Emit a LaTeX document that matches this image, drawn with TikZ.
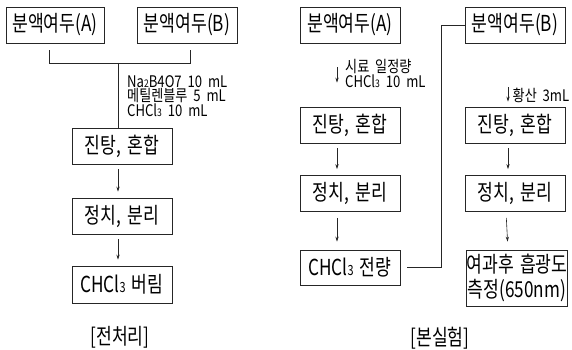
\documentclass[tikz,border=0pt]{standalone}
\usepackage{fontspec}
\setmainfont{Noto Sans CJK KR}[FakeStretch=0.78]
\newfontfamily\boxfont{Noto Sans CJK KR}[FakeStretch=0.78,WordSpace=1.6]
\newfontfamily\lblfont{Noto Sans CJK KR}[FakeStretch=0.82,WordSpace=2.0]
\usetikzlibrary{arrows.meta}
\newcommand{\sm}[1]{{\fontsize{10.5}{10}\selectfont #1}}
\newcommand{\smb}[1]{{\fontsize{14}{14}\selectfont #1}}
\begin{document}
\begin{tikzpicture}[x=1pt,y=-1pt,
  box/.style={draw=black!85,line width=0.7pt,minimum width=100pt,minimum height=36pt,inner sep=0pt,font=\boxfont\fontsize{22}{24}\selectfont},
  arr/.style={draw=black!85,line width=0.6pt,-{Stealth[length=5pt,width=3.2pt]}},
  ln/.style={draw=black!85,line width=0.7pt},
  lbl/.style={font=\lblfont\fontsize{16}{14.5}\selectfont,align=left,inner sep=0pt,anchor=west},
  captext/.style={font=\boxfont\fontsize{22}{24}\selectfont,inner sep=0pt}]
\useasboundingbox (0,0) rectangle (572,350);
% left section
\node[box,minimum width=98pt] (a1) at (55,25) {분액여두(A)};
\node[box] (b1) at (187,25) {분액여두(B)};
\node[box] (j1) at (122,146) {진탕, 혼합};
\node[box] (s1) at (122,216) {정치, 분리};
\node[box,minimum height=37pt] (c1) at (122,284.5) {CHCl\smb{3} 버림};
\node[captext] (cap1) at (120,337) {[전처리]};
\coordinate (m1) at (118,63);
\draw[ln] ([shift={(-6,7)}]a1.south) |- ([shift={(3,20)}]b1.south) -- ([shift={(3,7)}]b1.south);
\draw[ln] (m1) -- ([xshift=-4pt]j1.north);
\node[lbl] (l1) at (127,96) {Na\sm{2}B4O7 10 mL\\메틸렌블루 5 mL\\CHCl\sm{3} 10 mL};
\draw[arr,shorten <=5pt,shorten >=6pt] ([xshift=-4pt]j1.south) -- ([xshift=-4pt]s1.north);
\draw[arr,shorten <=5pt,shorten >=6pt] ([xshift=-4pt]s1.south) -- ([xshift=-4pt]c1.north);
% right section, column A
\node[box] (a2) at (350,25) {분액여두(A)};
\node[box] (j2) at (350,125) {진탕, 혼합};
\node[box] (s2) at (350,193.5) {정치, 분리};
\node[box,minimum height=35pt] (c2) at (350,267.5) {CHCl\smb{3} 전량};
\draw[arr,shorten <=24pt,shorten >=24pt] ([xshift=-13pt]a2.south) -- ([xshift=-13pt]j2.north);
\node[lbl] (l2) at (345,73.5) {시료 일정량\\CHCl\sm{3} 10 mL};
\draw[arr,shorten <=5pt,shorten >=6pt] ([xshift=-13pt]j2.south) -- ([xshift=-13pt]s2.north);
\draw[arr,shorten <=6pt,shorten >=8pt] ([xshift=-13pt]s2.south) -- ([xshift=-13pt]c2.north);
% right section, column B
\node[box] (b2) at (515,25) {분액여두(B)};
\node[box] (j3) at (515,125) {진탕, 혼합};
\node[box] (s3) at (515,193.5) {정치, 분리};
\node[box,minimum height=56pt,align=center,font=\boxfont\fontsize{22}{25}\selectfont] (m3) at (517,278) {여과후 흡광도\\측정(650nm)};
\draw[arr,shorten <=44pt,shorten >=5pt] ([xshift=-7pt]b2.south) -- ([xshift=-7pt]j3.north);
\node[lbl] (l3) at (512.5,95) {황산 3mL};
\draw[arr,shorten <=5pt,shorten >=6pt] ([xshift=-7pt]j3.south) -- ([xshift=-7pt]s3.north);
\draw[arr,shorten <=6pt,shorten >=8pt] ([xshift=-9pt]s3.south) -- ([xshift=-9pt]m3.north);
\draw[ln,shorten <=7pt] (c2.east) -| ([xshift=-23pt]b2.west) -- (b2.west);
\node[captext] (cap2) at (440,338) {[본실험]};
\end{tikzpicture}
\end{document}
